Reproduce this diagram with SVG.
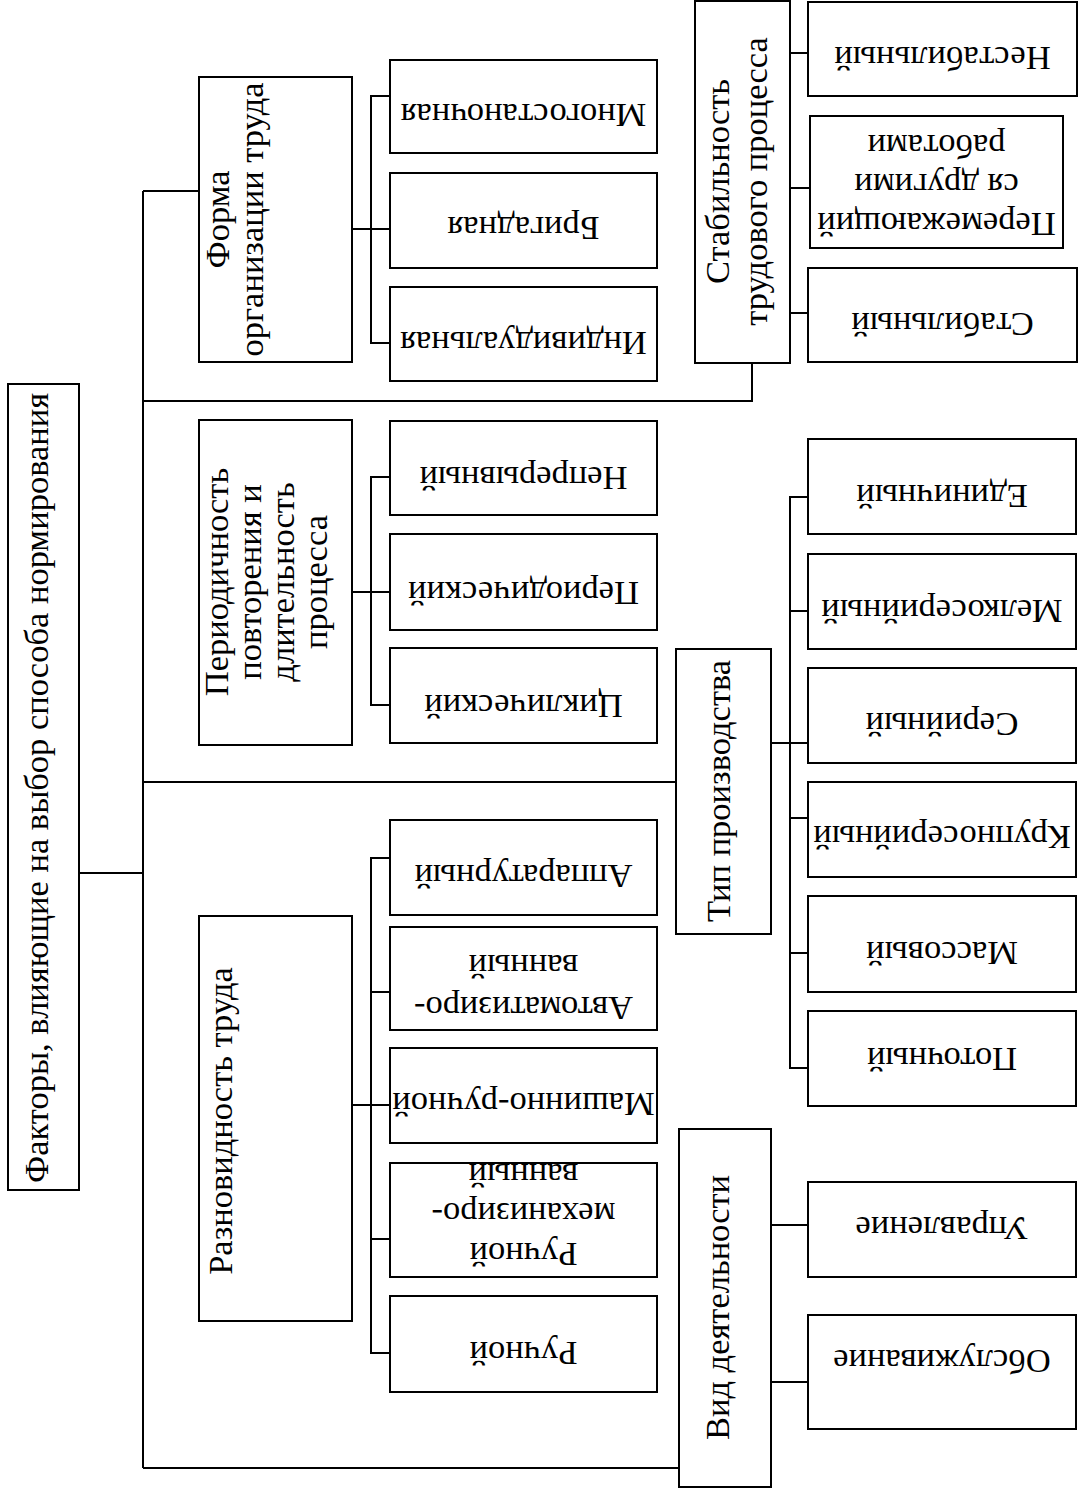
<svg xmlns="http://www.w3.org/2000/svg" width="1081" height="1495" viewBox="0 0 1081 1495">
<style>
rect{fill:#fff;stroke:#000;stroke-width:2}
.c path{fill:none;stroke:#000;stroke-width:2}
text{font-family:"Liberation Serif","Times New Roman",serif;font-size:34.5px;text-anchor:middle;fill:#000}
</style>
<rect x="0" y="0" width="1081" height="1495" style="stroke:none"/>
<g class="c" id="connectors">
<path d="M79 873H143M143 191V1468M143 191H199M143 401H752V363M143 782H676M143 1468H679"/>
<path d="M352 229H390M390 96H371V343H390"/>
<path d="M352 592H390M390 477H371V705H390"/>
<path d="M352 1105H390M390 858H371V1353H390M371 992H390M371 1239H390"/>
<path d="M790 53H808M791 188H810M790 313H808"/>
<path d="M771 743H808M808 497H790V1068H808M790 611H808M790 818H808M790 953H808"/>
<path d="M771 1225H808M771 1382H808"/>
</g>
<g id="root"><rect x="8" y="384" width="71" height="806"/>
<text transform="translate(48 788) rotate(-90)">Факторы, влияющие на выбор способа нормирования</text></g>
<g id="forma"><rect x="199" y="77" width="153" height="285"/>
<g transform="translate(229 219.5) rotate(-90)"><text>Форма</text><text y="34">организации труда</text></g></g>
<g id="period"><rect x="199" y="420" width="153" height="325"/>
<g transform="translate(228 582) rotate(-90)"><text>Периодичность</text><text y="33">повторения и</text><text y="66">длительность</text><text y="99">процесса</text></g></g>
<g id="razn"><rect x="199" y="916" width="153" height="405"/>
<text transform="translate(232 1121) rotate(-90)">Разновидность труда</text></g>
<g id="stab"><rect x="695" y="1" width="95" height="362"/>
<g transform="translate(729 181.5) rotate(-90)"><text>Стабильность</text><text y="38">трудового процесса</text></g></g>
<g id="tip"><rect x="676" y="649" width="95" height="285"/>
<text transform="translate(730 791) rotate(-90)">Тип производства</text></g>
<g id="vid"><rect x="679" y="1129" width="92" height="358"/>
<text transform="translate(729 1307.5) rotate(-90)">Вид деятельности</text></g>
<g id="l-mnogo"><rect x="390" y="60" width="267" height="93"/><text transform="translate(523.5 104) rotate(180)">Многостаночная</text></g>
<g id="l-brig"><rect x="390" y="173" width="267" height="95"/><text transform="translate(523.5 217) rotate(180)">Бригадная</text></g>
<g id="l-indiv"><rect x="390" y="287" width="267" height="94"/><text transform="translate(523.5 332) rotate(180)">Индивидуальная</text></g>
<g id="l-nepr"><rect x="390" y="421" width="267" height="94"/><text transform="translate(523.5 467) rotate(180)">Непрерывный</text></g>
<g id="l-period"><rect x="390" y="534" width="267" height="96"/><text transform="translate(523.5 582) rotate(180)">Периодический</text></g>
<g id="l-cikl"><rect x="390" y="648" width="267" height="95"/><text transform="translate(523.5 695) rotate(180)">Циклический</text></g>
<g id="l-appar"><rect x="390" y="820" width="267" height="95"/><text transform="translate(523.5 865) rotate(180)">Аппаратурный</text></g>
<g id="l-avtom"><rect x="390" y="927" width="267" height="103"/><g transform="translate(523.5 997) rotate(180)"><text>Автоматизиро-</text><text y="42">ванный</text></g></g>
<g id="l-mash"><rect x="390" y="1048" width="267" height="95"/><text transform="translate(523.5 1093) rotate(180)">Машинно-ручной</text></g>
<g id="l-ruchmeh"><rect x="390" y="1163" width="267" height="114"/><g transform="translate(523.5 1243) rotate(180)"><text>Ручной</text><text y="40">механизиро-</text><text y="79">ванный</text></g></g>
<g id="l-ruch"><rect x="390" y="1296" width="267" height="96"/><text transform="translate(523.5 1342) rotate(180)">Ручной</text></g>
<g id="l-nestab"><rect x="808" y="2" width="269" height="94"/><text transform="translate(942.5 47) rotate(180)">Нестабильный</text></g>
<g id="l-perem"><rect x="810" y="116" width="253" height="132"/><g transform="translate(936.5 213) rotate(180)"><text>Перемежающий</text><text y="39">ся другими</text><text y="78">работами</text></g></g>
<g id="l-stab"><rect x="808" y="268" width="269" height="94"/><text transform="translate(942.5 313) rotate(180)">Стабильный</text></g>
<g id="l-edin"><rect x="808" y="439" width="268" height="95"/><text transform="translate(942 485) rotate(180)">Единичный</text></g>
<g id="l-melk"><rect x="808" y="554" width="268" height="95"/><text transform="translate(942 600) rotate(180)">Мелкосерийный</text></g>
<g id="l-ser"><rect x="808" y="668" width="268" height="95"/><text transform="translate(942 713) rotate(180)">Серийный</text></g>
<g id="l-krup"><rect x="808" y="782" width="268" height="95"/><text transform="translate(942 826) rotate(180)">Крупносерийный</text></g>
<g id="l-mass"><rect x="808" y="896" width="268" height="96"/><text transform="translate(942 942) rotate(180)">Массовый</text></g>
<g id="l-potoch"><rect x="808" y="1011" width="268" height="95"/><text transform="translate(942 1048) rotate(180)">Поточный</text></g>
<g id="l-uprav"><rect x="808" y="1182" width="268" height="95"/><text transform="translate(942 1217) rotate(180)">Управление</text></g>
<g id="l-obsl"><rect x="808" y="1315" width="268" height="114"/><text transform="translate(942 1350) rotate(180)">Обслуживание</text></g>
</svg>
